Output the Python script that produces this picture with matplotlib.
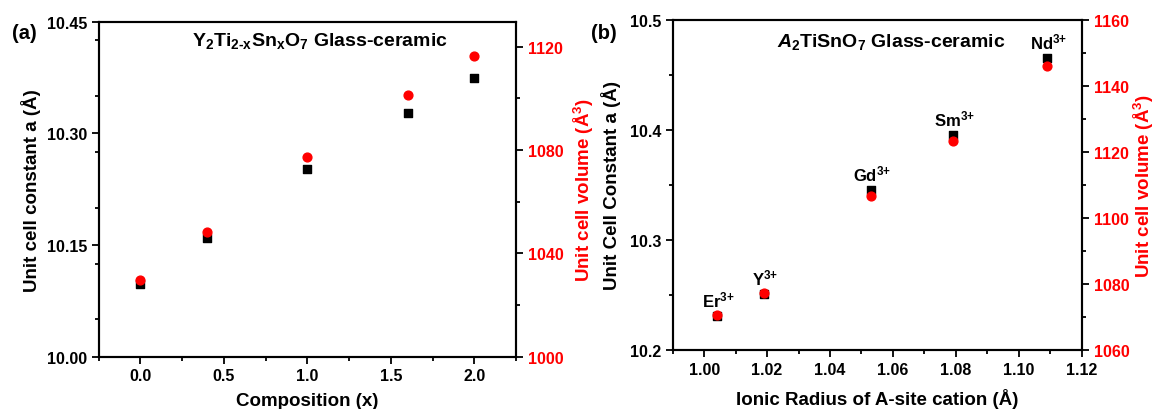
import numpy as np
import matplotlib.pyplot as plt
from matplotlib.ticker import MultipleLocator

plt.rcParams['font.family'] = ['Liberation Sans', 'DejaVu Sans']
plt.rcParams['font.weight'] = 'bold'
plt.rcParams['axes.labelweight'] = 'bold'
plt.rcParams['mathtext.fontset'] = 'custom'
plt.rcParams['mathtext.rm'] = 'Liberation Sans:bold'
plt.rcParams['mathtext.bf'] = 'Liberation Sans:bold'
plt.rcParams['mathtext.it'] = 'Liberation Sans:bold:italic'

# (a) Y2Ti(2-x)SnxO7
comp_x = [0.0, 0.4, 1.0, 1.6, 2.0]
comp_a = [10.098, 10.159, 10.252, 10.328, 10.374]
comp_vol = [1029.8, 1048.3, 1077.4, 1101.3, 1116.4]

# (b) A2TiSnO7
ions = ['Er', 'Y', 'Gd', 'Sm', 'Nd']
radius = [1.004, 1.019, 1.053, 1.079, 1.109]
ion_a = [10.231, 10.251, 10.345, 10.395, 10.465]
ion_vol = [1070.5, 1077.3, 1106.7, 1123.2, 1146.0]

fig = plt.figure(figsize=(11.59, 4.10), dpi=100)
ax1 = fig.add_axes([0.0852, 0.1276, 0.3600, 0.8170])
ax2 = fig.add_axes([0.5804, 0.1446, 0.3529, 0.8042])

TICK = 11.5
LAB = 13.5


def style(ax, twin):
    for a in (ax, twin):
        for s in a.spines.values():
            s.set_linewidth(1.5)
    ax.tick_params(which='both', direction='out', top=False, width=1.3, labelsize=TICK)
    ax.tick_params(which='major', length=5)
    ax.tick_params(which='minor', length=3)
    twin.tick_params(which='both', direction='out', width=1.3, labelsize=TICK,
                     labelcolor='red')
    twin.tick_params(which='major', length=5)
    twin.tick_params(which='minor', length=3)
    for lab in ax.get_xticklabels() + ax.get_yticklabels() + twin.get_yticklabels():
        lab.set_fontweight('bold')


# panel (a)
t1 = ax1.twinx()
ax1.scatter(comp_x, comp_a, marker='s', s=34, color='black', zorder=3)
t1.scatter(comp_x, comp_vol, marker='o', s=40, color='red', zorder=4)
ax1.set_xlim(-0.25, 2.25)
ax1.set_ylim(10.0, 10.45)
t1.set_ylim(1000, 1129.7)
ax1.set_xticks([0.0, 0.5, 1.0, 1.5, 2.0])
ax1.xaxis.set_minor_locator(MultipleLocator(0.25))
ax1.set_yticks([10.00, 10.15, 10.30, 10.45])
ax1.set_yticklabels(['10.00', '10.15', '10.30', '10.45'])
ax1.yaxis.set_minor_locator(MultipleLocator(0.075))
t1.set_yticks([1000, 1040, 1080, 1120])
t1.yaxis.set_minor_locator(MultipleLocator(20))
ax1.set_xlabel('Composition (x)', fontsize=LAB, labelpad=6)
ax1.set_ylabel('Unit cell constant a (Å)', fontsize=LAB, labelpad=4)
t1.set_ylabel('Unit cell volume (Å$^3$)', fontsize=LAB, color='red', labelpad=6)
style(ax1, t1)
ax1.text(0.53, 0.945, r'$\mathbf{Y_2Ti_{2\text{-}x}Sn_xO_7}$ Glass-ceramic',
         transform=ax1.transAxes, ha='center', va='center', fontsize=14)
fig.text(0.010, 0.905, '(a)', fontsize=14.5, fontweight='bold')

# panel (b)
t2 = ax2.twinx()
ax2.scatter(radius, ion_a, marker='s', s=34, color='black', zorder=3)
t2.scatter(radius, ion_vol, marker='o', s=40, color='red', zorder=4)
ax2.set_xlim(0.99, 1.12)
ax2.set_ylim(10.2, 10.5)
t2.set_ylim(1060, 1160)
ax2.set_xticks([1.00, 1.02, 1.04, 1.06, 1.08, 1.10, 1.12])
ax2.set_xticklabels(['1.00', '1.02', '1.04', '1.06', '1.08', '1.10', '1.12'])
ax2.xaxis.set_minor_locator(MultipleLocator(0.01))
ax2.set_yticks([10.2, 10.3, 10.4, 10.5])
ax2.yaxis.set_minor_locator(MultipleLocator(0.05))
t2.set_yticks([1060, 1080, 1100, 1120, 1140, 1160])
t2.yaxis.set_minor_locator(MultipleLocator(10))
ax2.set_xlabel('Ionic Radius of A-site cation (Å)', fontsize=LAB, labelpad=8)
ax2.set_ylabel('Unit Cell Constant a (Å)', fontsize=LAB, labelpad=6)
t2.set_ylabel('Unit cell volume (Å$^3$)', fontsize=LAB, color='red', labelpad=2)
style(ax2, t2)
for name, r, a in zip(ions, radius, ion_a):
    ax2.annotate(name + r'$^{3{+}}$', (r, a), xytext=(1, 12), textcoords='offset points',
                 ha='center', va='center', fontsize=12, fontweight='bold')
ax2.text(0.534, 0.937, r'$\mathit{A}_2$TiSnO$_7$ Glass-ceramic',
         transform=ax2.transAxes, ha='center', va='center', fontsize=14)
fig.text(0.510, 0.905, '(b)', fontsize=14.5, fontweight='bold')

fig.savefig('out.png', dpi=100)
